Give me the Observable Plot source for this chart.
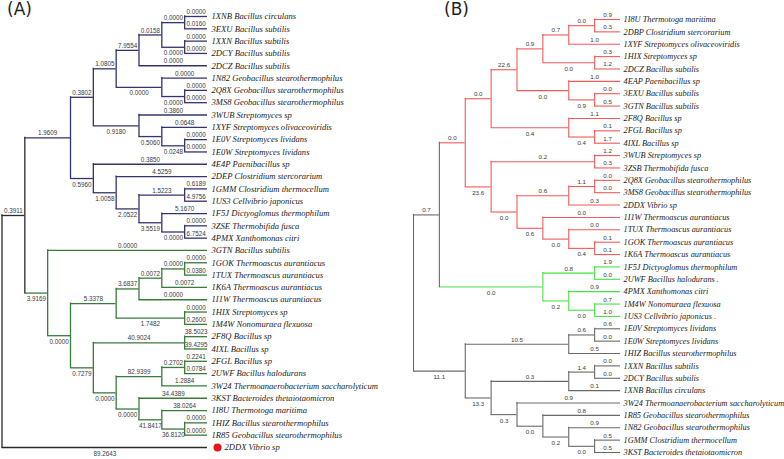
<!DOCTYPE html>
<html><head><meta charset="utf-8">
<script src="https://cdn.jsdelivr.net/npm/d3@7"></script>
<script src="https://cdn.jsdelivr.net/npm/@observablehq/plot@0.6"></script>
<style>
body{margin:0;background:#fff;}
#wrap{position:relative;width:784px;height:459px;overflow:hidden;background:#fff;}
.panel{position:absolute;top:0;}
.tag{position:absolute;top:-1px;font-family:"DejaVu Sans",sans-serif;font-size:17px;color:#222;}
</style></head><body>
<div id="wrap"></div>
<script>
// ---------- Tree A (edges in top-to-bottom order) ----------
const aChild = ["N1","N2","A","B","C","D1","E1","1XNB Bacillus circulans","3EXU Bacillus subtilis","E2","1XXN Bacillus subtilis","2DCY Bacillus subtilis","2DCZ Bacillus subtilis","F","1N82 Geobacillus stearothermophilus","G","2Q8X Geobacillus stearothermophilus","3MS8 Geobacillus stearothermophilus","Q","3WUB Streptomyces sp","S","1XYF Streptomyces olivaceoviridis","T","1E0V Streptomyces lividans","1E0W Streptomyces lividans","P","4E4P Paenibacillus sp","U","2DEP Clostridium stercorarium","V","W","1GMM Clostridium thermocellum","1US3 Cellvibrio japonicus","X","1F5J Dictyoglomus thermophilum","Y","3ZSE Thermobifida fusca","4PMX Xanthomonas citri","N3","3GTN Bacillus subtilis","N4","N5","N7","N9","N10","1GOK Thermoascus aurantiacus","1TUX Thermoascus aurantiacus","1K6A Thermoascus aurantiacus","1I1W Thermoascus aurantiacus","N8","1HIX Streptomyces sp","1M4W Nonomuraea flexuosa","N6","N11","2F8Q Bacillus sp","4IXL Bacillus sp","N12","N13","N15","2FGL Bacillus sp","2UWF Bacillus halodurans","3W24 Thermoanaerobacterium saccharolyticum","N14","3KST Bacteroides thetaiotaomicron","N16","1I8U Thermotoga maritima","N17","1HIZ Bacillus stearothermophilus","1R85 Geobacillus stearothermophilus","2DDX Vibrio sp"];
const aParent = ["R","N1","N2","A","B","C","D1","E1","E1","D1","E2","E2","C","B","F","F","G","G","A","Q","Q","S","S","T","T","N2","P","P","U","U","V","W","W","V","X","X","Y","Y","N1","N3","N3","N4","N5","N7","N9","N10","N10","N9","N7","N5","N8","N8","N4","N6","N11","N11","N6","N12","N13","N15","N15","N13","N12","N14","N14","N16","N16","N17","N17","R"];
const aLength = [0.3911,1.9609,0.3802,1.0805,7.9554,0.0158,0.0000,0.0000,0.0160,0.0000,0.0000,0.0000,0.0000,0.0000,0.0000,0.0000,0.0000,0.0000,0.9180,0.3860,0.5060,0.0648,0.0248,0.0000,0.0000,0.5960,0.3850,1.0058,4.5259,2.0522,1.5223,0.6189,4.9756,3.5519,5.1670,0.0000,0.0000,6.7524,3.9169,0.0000,0.0000,5.3378,3.6837,0.0072,0.0000,0.0000,0.0380,0.0072,0.0000,1.7482,0.0000,0.2600,0.7279,40.9024,38.5023,39.4295,0.0000,82.9399,0.2702,0.2241,0.0784,1.2884,0.0000,34.4389,41.8417,38.0264,36.8120,0.0000,0.0000,89.2643];
const aGroupRoots = ["N2","N3"];
const aMarked = ["2DDX Vibrio sp"];

// ---------- Tree B ----------
const bChild = ["N1","Red","R1","S","S1","S11","S111","1I8U Thermotoga maritima","2DBP Clostridium stercorarium","1XYF Streptomyces olivaceoviridis","S12","1HIX Streptomyces sp","2DCZ Bacillus subtilis","S2","4EAP Paenibacillus sp","S21","3EXU Bacillus subtilis","3GTN Bacillus subtilis","T","2F8Q Bacillus sp","T1","2FGL Bacillus sp","4IXL Bacillus sp","R2","U","3WUB Streptomyces sp","3ZSB Thermobifida fusca","V","V1","V11","2Q8X Geobacillus stearothermophilus","3MS8 Geobacillus stearothermophilus","2DDX Vibrio sp","V2","1I1W Thermoascus aurantiacus","V21","1TUX Thermoascus aurantiacus","V211","1GOK Thermoascus aurantiacus","1K6A Thermoascus aurantiacus","Green","G1","1F5J Dictyoglomus thermophilum","2UWF Bacillus halodurans .","G2","4PMX Xanthomonas citri","G21","1M4W Nonomuraea flexuosa","1US3 Cellvibrio japonicus .","M","M1","M11","1E0V Streptomyces lividans","1E0W Streptomyces lividans","1HIZ Bacillus stearothermophilus","M2","M21","M211","1XXN Bacillus subtilis","2DCY Bacillus subtilis","1XNB Bacillus circulans","M22","3W24 Thermoanaerobacterium saccharolyticum","M221","1R85 Geobacillus stearothermophilus","M2211","1N82 Geobacillus stearothermophilus","M22111","1GMM Clostridium thermocellum","3KST Bacteroides thetaiotaomicron"];
const bParent = ["R","N1","Red","R1","S","S1","S11","S111","S111","S11","S1","S12","S12","S","S2","S2","S21","S21","R1","T","T","T1","T1","Red","R2","U","U","R2","V","V1","V11","V11","V1","V","V2","V2","V21","V21","V211","V211","N1","Green","G1","G1","Green","G2","G2","G21","G21","R","M","M1","M11","M11","M1","M","M2","M21","M211","M211","M21","M2","M22","M22","M221","M221","M2211","M2211","M22111","M22111"];
const bLength = [0.7,0.0,0.0,22.6,0.9,0.7,0.0,0.9,0.3,1.0,0.0,0.3,1.2,0.0,1.0,0.9,0.0,0.5,0.4,1.1,0.4,0.1,1.7,23.6,0.2,1.2,0.3,0.0,0.6,1.1,0.0,0.0,0.3,0.6,0.0,0.0,0.0,0.4,0.1,0.1,0.0,0.8,1.9,0.0,0.2,0.9,0.0,0.7,1.0,11.1,10.5,0.6,0.6,0.0,0.5,13.3,0.3,1.4,0.0,0.0,0.1,0.3,0.9,0.0,0.8,0.2,0.9,0.0,0.5,0.5];
const bGroupRoots = ["Red","Green"];
const bMarked = [];

function layout(childs, parents, lens, groupRoots) {
  const map = new Map();
  const get = id => { if (!map.has(id)) map.set(id, {id, children: [], parent: null}); return map.get(id); };
  childs.forEach((c, i) => { const n = get(c), p = get(parents[i]); n.parent = p; n.len = lens[i]; p.children.push(n); });
  const nodes = [...map.values()];
  const root = nodes.find(n => !n.parent);
  const height = n => (n.height = n.children.length ? d3.max(n.children, height) + 1 : 0);
  height(root);
  let k = 0;
  const place = (n, g) => {
    n.group = groupRoots.includes(n.id) ? n.id : g;
    n.x = root.height - n.height;
    if (!n.children.length) n.y = k++;
    else { n.children.forEach(c => place(c, n.group)); n.y = (n.children[0].y + n.children[n.children.length - 1].y) / 2; }
  };
  place(root, "base");
  return {root, nodes, nLeaves: k};
}

function drawTree(o) {
  const {root, nodes, nLeaves} = layout(o.childs, o.parents, o.lens, o.groupRoots);
  const edges = nodes.filter(n => n.parent).map(n => {
    const sibs = n.parent.children;
    const last = sibs[sibs.length - 1] === n;
    const below = last && (n.children.length > 0 || n.parent === root);
    return {x1: n.parent.x, x2: n.x, mid: (n.parent.x + n.x) / 2, y: n.y, g: n.group, label: n.len.toFixed(o.digits), below};
  });
  const verts = nodes.filter(n => n.children.length).map(n => ({x: n.x, y1: n.children[0].y, y2: n.children[n.children.length - 1].y, g: n.group}));
  const leaves = nodes.filter(n => !n.children.length);
  const plain = leaves.filter(n => !o.marked.includes(n.id));
  const marked = leaves.filter(n => o.marked.includes(n.id));
  const lab = {fontSize: o.numSize, fill: "#3a3a3a", fontFamily: "Liberation Sans, sans-serif"};
  const leafTxt = {x: "x", y: "y", text: "id", textAnchor: "start", fontStyle: "italic", fontFamily: "Liberation Serif, serif", fontSize: o.leafSize, fill: "#222"};
  return Plot.plot({
    width: 392, height: 459, margin: 0,
    style: {background: "transparent", overflow: "visible"},
    x: {domain: [0, root.height], range: o.xRange, axis: null},
    y: {domain: [0, nLeaves - 1], range: o.yRange, axis: null},
    color: {type: "ordinal", domain: ["base", ...o.groupRoots], range: o.colors},
    marks: [
      Plot.ruleY(edges, {y: "y", x1: "x1", x2: "x2", stroke: "g", strokeWidth: o.sw}),
      Plot.ruleX(verts, {x: "x", y1: "y1", y2: "y2", stroke: "g", strokeWidth: o.sw, strokeLinecap: "square"}),
      Plot.text(edges.filter(e => !e.below), {x: "mid", y: "y", text: "label", dy: -4.5, ...lab}),
      Plot.text(edges.filter(e => e.below), {x: "mid", y: "y", text: "label", dy: 6, ...lab}),
      Plot.text(plain, {...leafTxt, dx: o.leafDx}),
      Plot.dot(marked, {x: "x", y: "y", dx: 10, r: 4, fill: "#e8141b", stroke: "none"}),
      Plot.text(marked, {...leafTxt, dx: 17})
    ]
  });
}

const wrap = document.getElementById("wrap");
const A = drawTree({childs: aChild, parents: aParent, lens: aLength, groupRoots: aGroupRoots, marked: aMarked,
  digits: 4, xRange: [1.5, 207], yRange: [16, 447], colors: ["#2a2a2a", "#34346e", "#3a7a3a"], sw: 1.3, numSize: 6.3, leafSize: 8.6, leafDx: 4});
A.classList.add("panel"); A.style.left = "0px"; wrap.appendChild(A);
const B = drawTree({childs: bChild, parents: bParent, lens: bLength, groupRoots: bGroupRoots, marked: bMarked,
  digits: 1, xRange: [21, 228], yRange: [19, 452], colors: ["#6a6a6a", "#f05a5a", "#48e048"], sw: 1.1, numSize: 6.2, leafSize: 8.3, leafDx: 3});
B.classList.add("panel"); B.style.left = "392px"; wrap.appendChild(B);

const tA = document.createElement("div"); tA.className = "tag"; tA.style.left = "7px"; tA.textContent = "(A)"; wrap.appendChild(tA);
const tB = document.createElement("div"); tB.className = "tag"; tB.style.left = "444px"; tB.textContent = "(B)"; wrap.appendChild(tB);
</script>
</body></html>
